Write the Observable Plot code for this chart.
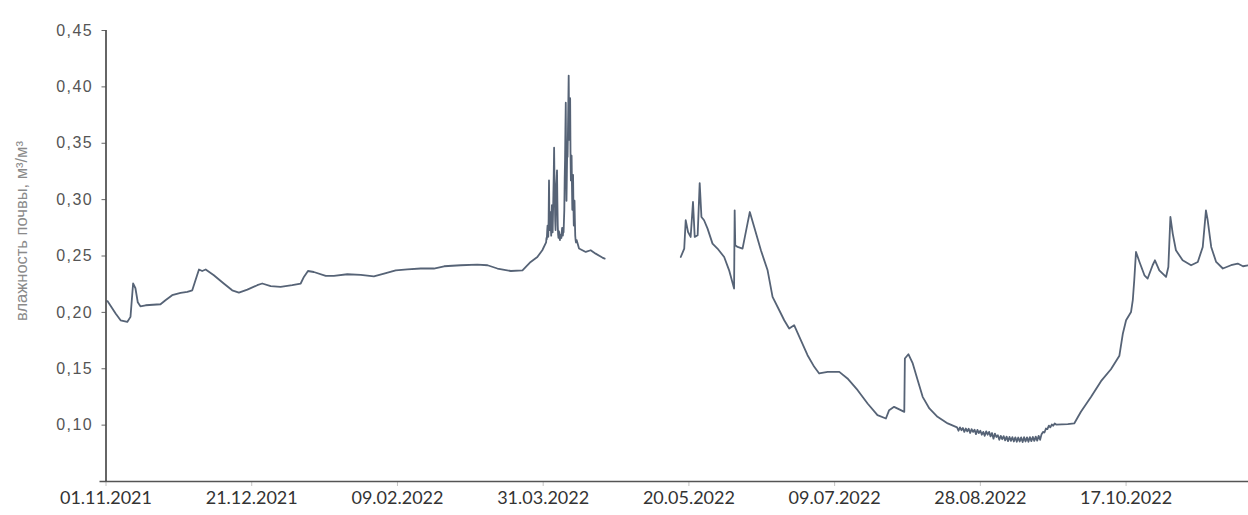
<!DOCTYPE html>
<html>
<head>
<meta charset="utf-8">
<script src="https://cdn.jsdelivr.net/npm/d3@7"></script>
<script src="https://cdn.jsdelivr.net/npm/@observablehq/plot@0.6"></script>
<style>
  html, body { margin: 0; padding: 0; background: #fff; }
  #chart svg { display: block; background: #fff; }
  #chart g[aria-label="y-axis tick label"] text { letter-spacing: 1.4px; }
</style>
</head>
<body>
<div id="chart"></div>
<script>
// Soil moisture record, 1 Nov 2021 – end of Nov 2022
const seriesStart = "2021-11-01";
const shownDays = 392;                 // length of the time axis, days
const dateTicks = ["01.11.2021", "21.12.2021", "09.02.2022", "31.03.2022",
                   "20.05.2022", "09.07.2022", "28.08.2022", "17.10.2022"];
const moistureTicks = [0.10, 0.15, 0.20, 0.25, 0.30, 0.35, 0.40, 0.45];
const moistureRange = [0.05, 0.45];
const yTitle = "влажность почвы, м³/м³";

// Period 1: November – mid-April (days after seriesStart)
const periodOneDays = [
  0.5, 3.3, 5, 7.3, 8.4, 9.3, 10.1, 10.9, 11.8, 13.6, 18.7, 20.4, 22.7, 25.6, 27.9,
  29.6, 30.7, 31.9, 33, 34.2, 37, 40.4, 43.3, 45.6, 48.5, 51.9, 53.6, 56.5, 59.9,
  63.9, 66.8, 67.9, 69.3, 71.3, 75.4, 78.2, 82.8, 87.4, 91.9, 95.4, 99.4, 103.4,
  108, 112.5, 116, 121.7, 127.4, 130.9, 134.3, 138.9, 142.9, 145.7, 148, 149.7,
  162.3, 164.6, 166.3, 168, 170.3, 171.1
];
const periodOneMoisture = [
  0.210, 0.199, 0.193, 0.1915, 0.196, 0.2256, 0.2214, 0.209, 0.2054, 0.2063, 0.2072,
  0.2108, 0.2152, 0.2172, 0.2181, 0.2196, 0.2285, 0.238, 0.2367, 0.238, 0.2329,
  0.2256, 0.2196, 0.2176, 0.2202, 0.2241, 0.2256, 0.2232, 0.2226, 0.2241, 0.2256,
  0.2314, 0.2367, 0.2358, 0.2323, 0.2323, 0.2338, 0.2332, 0.2320, 0.2344, 0.2373,
  0.2382, 0.2389, 0.2389, 0.2409, 0.2418, 0.2424, 0.2418, 0.2389, 0.2367, 0.2373,
  0.2447, 0.2491, 0.2551,
  0.2566, 0.2536, 0.2551, 0.2521, 0.2486, 0.2477
];

// Early-April thaw: logger readings every 3 hours from day 151
const thawStartDay = 151;
const thawStepHours = 3;
const thawMoisture = [
  0.262, 0.266, 0.265, 0.272, 0.277, 0.270, 0.267, 0.284,
  0.317, 0.288, 0.273, 0.281, 0.289, 0.276, 0.268, 0.282,
  0.295, 0.279, 0.271, 0.288, 0.304, 0.322, 0.346, 0.318,
  0.299, 0.281, 0.273, 0.296, 0.313, 0.319, 0.326, 0.298,
  0.277, 0.269, 0.266, 0.272, 0.271, 0.266, 0.264, 0.268,
  0.269, 0.267, 0.266, 0.271, 0.275, 0.270, 0.268, 0.272,
  0.271, 0.281, 0.291, 0.318, 0.335, 0.362, 0.386, 0.331,
  0.299, 0.322, 0.344, 0.338, 0.361, 0.385, 0.410, 0.372,
  0.353, 0.371, 0.390, 0.342, 0.317, 0.331, 0.339, 0.312,
  0.291, 0.308, 0.322, 0.296, 0.277, 0.289, 0.299, 0.281,
  0.268, 0.264, 0.262, 0.263, 0.264
];

// Period 2: mid-May – end of November
const periodTwoDays = [
  197.2, 198.4, 198.9, 199.7, 200.6, 201.4, 202, 203, 203.7, 204.3, 205.2, 206.4,
  208.1, 209.8, 212.1, 213.8, 215.5, 215.7, 215.9, 216.7, 218.4, 220.1, 220.9, 222.4,
  224.7, 227, 228.7, 231, 232.7, 234.4, 236.1, 238.4, 240.7, 243, 244.7, 247.6,
  251.6, 254.4, 257.9, 261.3, 264.7, 267.6, 268.7, 270.4, 272.7, 273.9, 274.1,
  275.3, 276.8, 278.5, 280.2, 282.5, 285.3, 288.8,
  292, 292.5, 293, 293.5, 294, 294.5, 295, 295.5, 296, 296.5, 297, 297.5, 298, 298.5,
  299, 299.5, 300, 300.5, 301, 301.5, 302, 302.5, 303, 303.5, 304, 304.5, 305, 305.5,
  306, 306.5, 307, 307.5, 308, 308.5, 309, 309.5, 310, 310.5, 311, 311.5, 312, 312.5,
  313, 313.5, 314, 314.5, 315, 315.5, 316, 316.5, 317, 317.5, 318, 318.5, 319, 319.5,
  320, 320.5, 321, 321.5, 322, 322.5, 323, 323.5, 324, 324.5, 325, 325.5, 326,
  330, 332.2, 334.5, 338, 341.4, 344.8, 347.7, 348.9, 350, 351.7, 352.3, 352.8,
  353.4, 354.6, 356.3, 357.4, 359.1, 359.9, 361.4, 363.7, 364.5, 365.2, 366, 367.1,
  369.4, 372.3, 374.6, 376.3, 377.4, 378, 379.2, 380.9, 383.2, 386, 388.3, 390.1, 392
];
const periodTwoMoisture = [
  0.2491, 0.2566, 0.2817, 0.2713, 0.2669, 0.2979, 0.2669, 0.2684, 0.3147, 0.2846,
  0.2817, 0.2743, 0.2610, 0.2566, 0.2491, 0.2373, 0.2211, 0.2905, 0.2595, 0.258,
  0.2566, 0.2787, 0.289, 0.2757, 0.2551, 0.2373, 0.2137, 0.2019, 0.193, 0.1857,
  0.1886, 0.1753, 0.162, 0.1517, 0.1458, 0.1472, 0.1472, 0.1414, 0.131, 0.1192,
  0.1089, 0.1059, 0.1133, 0.1162, 0.1133, 0.1118, 0.1591, 0.1629, 0.1547, 0.1399,
  0.1251, 0.1148, 0.1074, 0.1015,
  0.098, 0.095, 0.098, 0.0955, 0.0975, 0.094, 0.097, 0.0945, 0.0968, 0.093, 0.0965,
  0.094, 0.096, 0.092, 0.0958, 0.093, 0.095, 0.0915, 0.094, 0.0905, 0.0945, 0.0915,
  0.094, 0.090, 0.093, 0.088, 0.0925, 0.0895, 0.091, 0.087, 0.0905, 0.0875, 0.0902,
  0.0865, 0.0898, 0.0858, 0.0895, 0.086, 0.0893, 0.0855, 0.0892, 0.0852, 0.089,
  0.0855, 0.0891, 0.085, 0.0893, 0.0855, 0.0892, 0.0852, 0.0894, 0.0858, 0.0895,
  0.086, 0.0898, 0.0862, 0.0905, 0.087, 0.092, 0.094, 0.0935, 0.097, 0.0965, 0.0995,
  0.098, 0.1005, 0.0995, 0.1015, 0.1005,
  0.1009, 0.1015, 0.1118, 0.1251, 0.139, 0.1496, 0.1616, 0.1813, 0.193, 0.2004,
  0.2108, 0.2285, 0.2536, 0.2447, 0.2329, 0.230, 0.2418, 0.2462, 0.2373, 0.2314,
  0.2403, 0.2846, 0.2699, 0.2551, 0.2462, 0.2418, 0.2447, 0.258, 0.2905, 0.2817,
  0.258, 0.2447, 0.2389, 0.2418, 0.2433, 0.2409, 0.2418
];

const t0 = d3.utcParse("%Y-%m-%d")(seriesStart);
const atDay = (d) => new Date(t0.getTime() + d * 864e5);
const parseTick = d3.utcParse("%d.%m.%Y");
const formatTick = d3.utcFormat("%d.%m.%Y");

const periodOne = [
  ...periodOneDays.map((d, i) => ({day: d, value: periodOneMoisture[i]})),
  ...thawMoisture.map((v, i) => ({day: thawStartDay + i * thawStepHours / 24, value: v}))
].sort((a, b) => a.day - b.day);

const rows = [
  ...periodOne.map((r) => ({date: atDay(r.day), value: r.value, period: 1})),
  ...periodTwoDays.map((d, i) => ({date: atDay(d), value: periodTwoMoisture[i], period: 2}))
];

const chart = Plot.plot({
  width: 1248,
  height: 515,
  marginLeft: 105.5,
  marginRight: 0,
  marginTop: 30,
  marginBottom: 34,
  style: {background: "#fff", overflow: "visible"},
  x: {type: "utc", domain: [t0, atDay(shownDays)]},
  y: {domain: moistureRange},
  marks: [
    Plot.axisY({
      ticks: moistureTicks,
      tickFormat: (d) => d.toFixed(2).replace(".", ","),
      tickSize: 4,
      tickPadding: 9,
      stroke: "#666",
      fill: "#555",
      fontSize: 16,
      fontFamily: "'Liberation Sans', Arial, sans-serif",
      label: null
    }),
    Plot.axisX({
      ticks: dateTicks.map(parseTick),
      tickFormat: formatTick,
      tickSize: 5,
      tickPadding: 5,
      stroke: "#c4c4c4",
      fill: "#333",
      fontSize: 18,
      fontFamily: "Lato, 'Open Sans', sans-serif",
      label: null
    }),
    Plot.ruleY([moistureRange[0]], {stroke: "#555", strokeWidth: 1.5, insetLeft: -6}),
    Plot.ruleX([t0], {y1: moistureRange[0], y2: moistureRange[1], stroke: "#333", strokeWidth: 1.5}),
    Plot.line(rows, {
      x: "date",
      y: "value",
      z: "period",
      stroke: "#26374f",
      strokeOpacity: 0.78,
      strokeWidth: 1.8,
      strokeLinejoin: "round"
    }),
    Plot.text([yTitle], {
      frameAnchor: "left",
      textAnchor: "middle",
      rotate: -90,
      dx: -84,
      dy: -25,
      fontSize: 16.5,
      fill: "#8a8a8a",
      fontFamily: "'Liberation Sans', Arial, sans-serif",
      style: {letterSpacing: "1.1px"}
    })
  ]
});

document.getElementById("chart").append(chart);
</script>
</body>
</html>
